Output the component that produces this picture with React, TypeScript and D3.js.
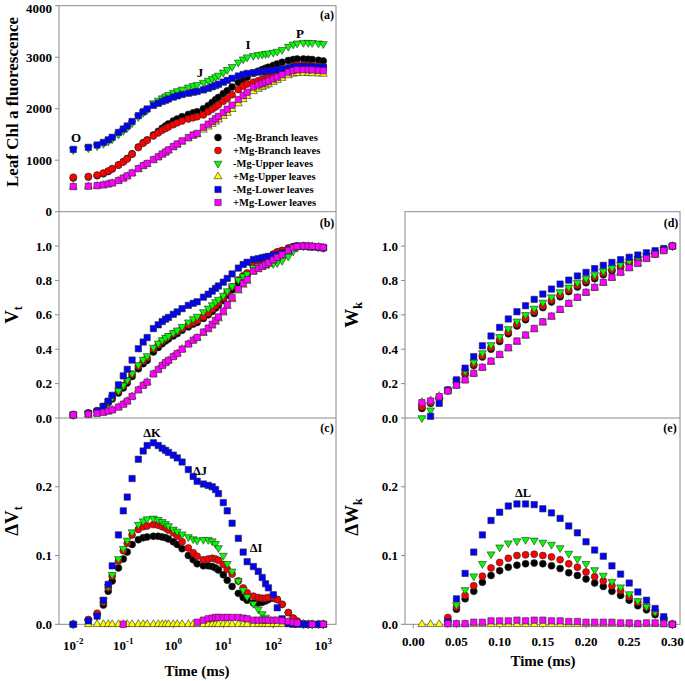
import React from "react";
import * as d3 from "d3";

// time points (ms) of the OJIP transient
const TIME = [
  0.01, 0.02, 0.03, 0.04, 0.05, 0.06, 0.08, 0.1, 0.12, 0.15, 0.2, 0.25, 0.3,
  0.4, 0.5, 0.6, 0.7, 0.8, 1, 1.2, 1.5, 2, 2.5, 3,
  4, 5, 6, 7, 8, 10, 12, 15, 20, 25, 30,
  40, 50, 60, 70, 80, 100, 120, 150, 200, 250, 300,
  400, 500, 600, 800, 1000,
];

// (a) raw fluorescence
const fBranchMinus = [
  655, 672, 700, 738, 780, 830, 905, 970, 1035, 1125, 1255, 1340, 1395,
  1490, 1560, 1620, 1665, 1705, 1760, 1800, 1845, 1890, 1920, 1940,
  2000, 2060, 2120, 2175, 2220, 2290, 2350, 2420, 2510, 2570, 2610,
  2690, 2730, 2760, 2785, 2805, 2840, 2870, 2900, 2935, 2955, 2965,
  2965, 2960, 2955, 2940, 2925,
];
const fBranchPlus = [
  668, 682, 712, 750, 790, 835, 905, 965, 1025, 1115, 1245, 1330, 1385,
  1470, 1530, 1580, 1615, 1645, 1690, 1725, 1760, 1800, 1825, 1845,
  1880, 1940, 1990, 2035, 2075, 2145, 2200, 2270, 2370, 2440, 2480,
  2515, 2545, 2570, 2595, 2615, 2655, 2690, 2730, 2790, 2830, 2850,
  2850, 2845, 2838, 2825, 2810,
];
const fUpperMinus = [
  1200, 1235, 1275, 1320, 1365, 1410, 1500, 1570, 1630, 1720, 1840, 1920, 1975,
  2110, 2160, 2205, 2240, 2270, 2310, 2345, 2375, 2415, 2445, 2465,
  2505, 2545, 2580, 2615, 2645, 2705, 2755, 2815, 2900, 2960, 3000,
  3030, 3045, 3055, 3065, 3075, 3090, 3110, 3145, 3205, 3250, 3270,
  3282, 3282, 3280, 3270, 3258,
];
const fUpperPlus = [
  482, 490, 500, 515, 532, 552, 598, 645, 688, 745, 825, 885, 925,
  1000, 1055, 1105, 1145, 1185, 1248, 1298, 1355, 1420, 1470, 1500,
  1590, 1650, 1700, 1745, 1785, 1855, 1915, 1990, 2100, 2180, 2240,
  2335, 2380, 2415, 2445, 2470, 2515, 2550, 2595, 2645, 2675, 2688,
  2690, 2688, 2685, 2680, 2675,
];
const fLowerMinus = [
  1210, 1250, 1295, 1345, 1395, 1445, 1540, 1605, 1665, 1752, 1865, 1940, 1995,
  2065, 2105, 2140, 2165, 2190, 2225, 2250, 2275, 2300, 2320, 2335,
  2365, 2395, 2425, 2450, 2475, 2515, 2550, 2590, 2635, 2665, 2685,
  2700, 2710, 2718, 2725, 2732, 2745, 2755, 2770, 2790, 2810, 2820,
  2825, 2822, 2818, 2810, 2805,
];
const fLowerPlus = [
  488, 495, 505, 520, 538, 558, 605, 652, 695, 752, 835, 895, 935,
  1010, 1065, 1120, 1160, 1200, 1265, 1315, 1375, 1440, 1490, 1520,
  1640, 1700, 1755, 1805, 1850, 1925, 1990, 2070, 2180, 2260, 2320,
  2420, 2460, 2490, 2515, 2540, 2580, 2615, 2660, 2710, 2740, 2755,
  2758, 2755, 2752, 2745, 2738,
];

// (b) relative variable fluorescence Vt
const vtBranchMinus = [
  0.018, 0.028, 0.041, 0.061, 0.088, 0.11, 0.145, 0.175, 0.203, 0.241, 0.286, 0.316, 0.335,
  0.384, 0.41, 0.432, 0.448, 0.459, 0.477, 0.491, 0.51, 0.53, 0.546, 0.556,
  0.579, 0.6, 0.62, 0.64, 0.657, 0.684, 0.714, 0.745, 0.785, 0.813, 0.832,
  0.88, 0.895, 0.909, 0.922, 0.933, 0.952, 0.965, 0.974, 0.988, 0.996, 1.0,
  1.0, 0.998, 0.996, 0.993, 0.99,
];
const vtBranchPlus = [
  0.018, 0.029, 0.043, 0.065, 0.093, 0.117, 0.155, 0.187, 0.216, 0.255, 0.301, 0.332, 0.351,
  0.401, 0.426, 0.447, 0.462, 0.472, 0.49, 0.503, 0.52, 0.541, 0.556, 0.567,
  0.588, 0.61, 0.632, 0.653, 0.671, 0.699, 0.73, 0.763, 0.803, 0.827, 0.843,
  0.89, 0.903, 0.915, 0.926, 0.936, 0.953, 0.965, 0.974, 0.988, 0.996, 1.0,
  1.0, 0.998, 0.996, 0.992, 0.988,
];
const vtUpperMinus = [
  0.018, 0.026, 0.039, 0.068, 0.095, 0.119, 0.158, 0.19, 0.22, 0.259, 0.308, 0.34, 0.361,
  0.41, 0.434, 0.454, 0.468, 0.478, 0.495, 0.51, 0.531, 0.557, 0.576, 0.59,
  0.617, 0.638, 0.657, 0.675, 0.689, 0.712, 0.738, 0.767, 0.803, 0.824, 0.837,
  0.875, 0.882, 0.887, 0.89, 0.893, 0.897, 0.902, 0.915, 0.94, 0.97, 0.99,
  1.0, 1.0, 0.999, 0.995, 0.99,
];
const vtUpperPlus = [
  0.018, 0.022, 0.027, 0.033, 0.04, 0.047, 0.063, 0.08, 0.098, 0.125, 0.163, 0.19, 0.208,
  0.256, 0.282, 0.305, 0.322, 0.335, 0.357, 0.375, 0.4, 0.43, 0.452, 0.465,
  0.494, 0.515, 0.536, 0.558, 0.578, 0.612, 0.65, 0.69, 0.74, 0.774, 0.797,
  0.849, 0.864, 0.877, 0.888, 0.897, 0.914, 0.929, 0.945, 0.971, 0.987, 0.996,
  0.999, 0.999, 0.998, 0.995, 0.991,
];
const vtLowerMinus = [
  0.018, 0.027, 0.039, 0.068, 0.098, 0.132, 0.193, 0.245, 0.283, 0.337, 0.403, 0.442, 0.468,
  0.52, 0.542, 0.561, 0.575, 0.585, 0.603, 0.617, 0.636, 0.655, 0.667, 0.676,
  0.703, 0.72, 0.738, 0.754, 0.768, 0.79, 0.812, 0.838, 0.872, 0.893, 0.906,
  0.922, 0.927, 0.932, 0.936, 0.94, 0.946, 0.951, 0.96, 0.978, 0.993, 1.0,
  0.999, 0.997, 0.995, 0.993, 0.99,
];
const vtLowerPlus = [
  0.018, 0.022, 0.027, 0.033, 0.04, 0.047, 0.063, 0.08, 0.098, 0.125, 0.163, 0.19, 0.208,
  0.256, 0.282, 0.305, 0.322, 0.335, 0.357, 0.375, 0.4, 0.43, 0.452, 0.468,
  0.5, 0.523, 0.545, 0.568, 0.588, 0.622, 0.66, 0.7, 0.75, 0.783, 0.805,
  0.855, 0.87, 0.883, 0.894, 0.903, 0.92, 0.935, 0.95, 0.975, 0.99, 0.998,
  1.0, 1.0, 0.999, 0.996, 0.992,
];

// (c) difference kinetics dVt
const dvBranchMinus = [
  0, 0.006, 0.014, 0.028, 0.048, 0.063, 0.082, 0.095, 0.105, 0.116, 0.123, 0.126, 0.127,
  0.128, 0.128, 0.127, 0.126, 0.124, 0.12, 0.116, 0.11, 0.1, 0.094, 0.088,
  0.085, 0.085, 0.084, 0.082, 0.079, 0.072, 0.064, 0.055, 0.045, 0.039, 0.035,
  0.031, 0.031, 0.032, 0.034, 0.036, 0.038, 0.036, 0.029, 0.017, 0.009, 0.004,
  0.001, 0, 0, 0, 0,
];
const dvBranchPlus = [
  0, 0.007, 0.016, 0.032, 0.053, 0.07, 0.092, 0.107, 0.118, 0.13, 0.138, 0.142, 0.143,
  0.145, 0.144, 0.142, 0.14, 0.137, 0.133, 0.128, 0.12, 0.111, 0.104, 0.099,
  0.094, 0.095, 0.096, 0.095, 0.093, 0.087, 0.08, 0.073, 0.063, 0.053, 0.046,
  0.041, 0.039, 0.038, 0.038, 0.039, 0.039, 0.036, 0.029, 0.017, 0.009, 0.005,
  0.001, 0, 0, 0, 0,
];
const dvUpperMinus = [
  0, 0.004, 0.012, 0.035, 0.055, 0.072, 0.095, 0.11, 0.122, 0.134, 0.145, 0.15, 0.153,
  0.154, 0.152, 0.149, 0.146, 0.143, 0.138, 0.135, 0.131, 0.127, 0.124, 0.122,
  0.123, 0.123, 0.121, 0.117, 0.111, 0.1, 0.088, 0.077, 0.063, 0.05, 0.04,
  0.03, 0.022, 0.015, 0.01, 0.006, 0.002, -0.01, -0.02, -0.03, -0.017, -0.006,
  0, 0, 0, 0, 0,
];
const dvUpperPlus = [
  0, 0, 0, 0, 0, 0, 0, 0, 0, 0, 0, 0, 0,
  0, 0, 0, 0, 0, 0, 0, 0, 0, 0, 0,
  0, 0, 0, 0, 0, 0, 0, 0, 0, 0, 0,
  0, 0, 0, 0, 0, 0, 0, 0, 0, 0, 0,
  0, 0, 0, 0, 0,
];
const dvLowerMinus = [
  0, 0.005, 0.012, 0.035, 0.058, 0.085, 0.13, 0.165, 0.185, 0.212, 0.24, 0.252, 0.26,
  0.264, 0.26, 0.256, 0.253, 0.25, 0.246, 0.242, 0.236, 0.225, 0.215, 0.208,
  0.204, 0.202, 0.2, 0.196, 0.19, 0.177, 0.165, 0.147, 0.125, 0.105, 0.091,
  0.084, 0.077, 0.068, 0.059, 0.053, 0.043, 0.024, 0.008, 0.001, 0, 0,
  0, 0, 0, 0, 0,
];
const dvLowerPlus = [
  -0.002, -0.002, -0.002, -0.002, -0.002, -0.002, -0.002, 0, -0.002, -0.002, -0.002, -0.002, -0.002,
  -0.002, -0.002, -0.002, -0.002, -0.002, -0.002, -0.002, -0.002, -0.002, -0.001, 0.003,
  0.006, 0.008, 0.009, 0.01, 0.01, 0.01, 0.01, 0.01, 0.01, 0.009, 0.008,
  0.006, 0.006, 0.006, 0.006, 0.006, 0.006, 0.006, 0.005, 0.004, 0.003, 0.002,
  -0.001, -0.001, 0, -0.001, 0,
];

// (d)/(e) time points (ms) of the O-K phase
const TIME_K = [
  0.01, 0.02, 0.03, 0.04, 0.05, 0.06, 0.07, 0.08, 0.09, 0.1,
  0.11, 0.12, 0.13, 0.14, 0.15, 0.16, 0.17, 0.18, 0.19, 0.2,
  0.21, 0.22, 0.23, 0.24, 0.25, 0.26, 0.27, 0.28, 0.29, 0.3,
];

const wkBranchMinus = [
  0.055, 0.085, 0.115, 0.16, 0.205, 0.255, 0.305, 0.355, 0.4, 0.445,
  0.49, 0.535, 0.572, 0.608, 0.642, 0.675, 0.705, 0.735, 0.762, 0.787,
  0.81, 0.833, 0.855, 0.876, 0.897, 0.916, 0.935, 0.955, 0.977, 1.0,
];
const wkBranchPlus = [
  0.065, 0.09, 0.118, 0.162, 0.21, 0.262, 0.312, 0.362, 0.41, 0.455,
  0.5, 0.545, 0.582, 0.618, 0.652, 0.685, 0.715, 0.745, 0.772, 0.797,
  0.82, 0.842, 0.863, 0.883, 0.903, 0.921, 0.939, 0.958, 0.979, 1.0,
];
const wkUpperMinus = [
  0.0, 0.045, 0.1, 0.16, 0.215, 0.272, 0.325, 0.378, 0.425, 0.472,
  0.518, 0.562, 0.6, 0.637, 0.672, 0.703, 0.733, 0.76, 0.786, 0.81,
  0.832, 0.853, 0.873, 0.892, 0.91, 0.927, 0.944, 0.962, 0.981, 1.0,
];
const wkUpperPlus = [
  0.092, 0.102, 0.127, 0.156, 0.189, 0.22, 0.257, 0.292, 0.326, 0.365,
  0.404, 0.442, 0.478, 0.515, 0.554, 0.588, 0.627, 0.663, 0.698, 0.728,
  0.757, 0.786, 0.815, 0.845, 0.872, 0.898, 0.926, 0.95, 0.972, 1.0,
];
const wkLowerMinus = [
  -0.04, 0.01, 0.085, 0.163, 0.222, 0.29, 0.357, 0.42, 0.477, 0.527,
  0.576, 0.618, 0.653, 0.69, 0.721, 0.75, 0.779, 0.802, 0.826, 0.847,
  0.869, 0.888, 0.905, 0.921, 0.935, 0.948, 0.961, 0.973, 0.986, 1.0,
];
const wkLowerPlus = [
  0.089, 0.099, 0.124, 0.157, 0.19, 0.221, 0.26, 0.295, 0.331, 0.37,
  0.409, 0.448, 0.483, 0.521, 0.56, 0.593, 0.632, 0.667, 0.702, 0.731,
  0.76, 0.789, 0.818, 0.847, 0.874, 0.899, 0.928, 0.952, 0.973, 1.0,
];

const dwBranchMinus = [
  -0.037, -0.017, -0.012, 0.005, 0.022, 0.037, 0.048, 0.061, 0.071, 0.078,
  0.083, 0.086, 0.088, 0.089, 0.088, 0.085, 0.081, 0.075, 0.071, 0.066,
  0.06, 0.055, 0.048, 0.042, 0.035, 0.027, 0.021, 0.014, 0.006, 0,
];
const dwBranchPlus = [
  -0.027, -0.012, -0.009, 0.01, 0.025, 0.042, 0.056, 0.07, 0.082, 0.09,
  0.096, 0.1, 0.101, 0.102, 0.1, 0.098, 0.094, 0.088, 0.083, 0.076,
  0.069, 0.063, 0.056, 0.049, 0.04, 0.032, 0.025, 0.017, 0.008, 0,
];
const dwUpperMinus = [
  -0.092, -0.057, -0.027, 0.002, 0.028, 0.05, 0.07, 0.088, 0.102, 0.112,
  0.118, 0.121, 0.123, 0.122, 0.119, 0.116, 0.111, 0.103, 0.095, 0.088,
  0.079, 0.071, 0.062, 0.054, 0.044, 0.034, 0.026, 0.018, 0.007, 0,
];
const dwUpperPlus = [
  0, 0, 0, 0, 0, 0, 0, 0, 0, 0,
  0, 0, 0, 0, 0, 0, 0, 0, 0, 0,
  0, 0, 0, 0, 0, 0, 0, 0, 0, 0,
];
const dwLowerMinus = [
  -0.13, -0.09, -0.04, 0.004, 0.037, 0.074, 0.105, 0.13, 0.151, 0.163,
  0.172, 0.175, 0.175, 0.174, 0.168, 0.162, 0.154, 0.143, 0.133, 0.12,
  0.108, 0.099, 0.085, 0.073, 0.06, 0.047, 0.035, 0.023, 0.011, 0,
];
const dwLowerPlus = [
  -0.003, -0.003, -0.003, 0.001, 0.001, 0.001, 0.003, 0.003, 0.005, 0.005,
  0.005, 0.006, 0.005, 0.006, 0.006, 0.005, 0.005, 0.004, 0.004, 0.003,
  0.003, 0.003, 0.003, 0.002, 0.002, 0.001, 0.002, 0.002, 0.001, 0,
];

// axis ticks
const Y_TICKS_A = [0, 1000, 2000, 3000, 4000];
const Y_TICKS_B = [0, 0.2, 0.4, 0.6, 0.8, 1.0];
const Y_TICKS_C = [0, 0.1, 0.2];
const X_TICKS_LOG = [0.01, 0.1, 1, 10, 100, 1000];
const X_TICKS_K = [0, 0.05, 0.1, 0.15, 0.2, 0.25, 0.3];

type Shape = "circle" | "square" | "up" | "down";
const SERIES: { label: string; color: string; shape: Shape }[] = [
  { label: "-Mg-Branch leaves", color: "#000000", shape: "circle" },
  { label: "+Mg-Branch leaves", color: "#ff0000", shape: "circle" },
  { label: "-Mg-Upper leaves", color: "#00ff00", shape: "down" },
  { label: "+Mg-Upper leaves", color: "#ffff00", shape: "up" },
  { label: "-Mg-Lower leaves", color: "#0000ff", shape: "square" },
  { label: "+Mg-Lower leaves", color: "#ff00ff", shape: "square" },
];

const FONT = "'Liberation Serif', 'Times New Roman', serif";
const AXIS = "#8a8a8a";

const SYMBOLS: Record<Shape, string> = {
  circle: d3.symbol(d3.symbolCircle, 38)() as string,
  square: d3.symbol(d3.symbolSquare, 40)() as string,
  up: d3.symbol(d3.symbolTriangle, 27)() as string,
  down: d3.symbol(d3.symbolTriangle, 27)() as string,
};

const LX0 = 59, LX1 = 336, RX0 = 405, RX1 = 680;
const TOP = 5.7, R1 = 211.7, R2 = 418, BOT = 624.3;

const xLog = d3.scaleLog().domain([0.00518, 1795]).range([LX0, LX1]);
const xLin = d3.scaleLinear().domain([-0.0096, 0.3088]).range([RX0, RX1]);
const yA = d3.scaleLinear().domain([0, 4000]).range([R1, TOP]);
const yB = d3.scaleLinear().domain([0, 1.2]).range([R2, R1]);
const yC = d3.scaleLinear().domain([0, 0.3]).range([BOT, R2]);

function Marker({ cx, cy, shape, color }: { cx: number; cy: number; shape: Shape; color: string }) {
  const rot = shape === "down" ? " rotate(180)" : "";
  return (
    <path
      d={SYMBOLS[shape]}
      transform={`translate(${cx},${cy})${rot}`}
      fill={color}
      stroke="#2a2a2a"
      strokeWidth={0.6}
    />
  );
}

function Scatter({
  times, values, x, y,
}: {
  times: number[];
  values: number[][];
  x: (v: number) => number;
  y: d3.ScaleLinear<number, number>;
}) {
  const [lo, hi] = y.domain();
  return (
    <g>
      {values.map((vals, si) => (
        <g key={si}>
          {vals.map((v, i) =>
            v >= lo - 1e-9 && v <= hi + 1e-9 ? (
              <Marker key={i} cx={x(times[i])} cy={y(v)} shape={SERIES[si].shape} color={SERIES[si].color} />
            ) : null,
          )}
        </g>
      ))}
    </g>
  );
}

function YAxis({ y, ticks, x0, fmt }: { y: d3.ScaleLinear<number, number>; ticks: number[]; x0: number; fmt: (v: number) => string }) {
  return (
    <g>
      {ticks.map((t) => (
        <g key={t}>
          <line x1={x0 - 4} x2={x0} y1={y(t)} y2={y(t)} stroke={AXIS} />
          {/* keep the top label inside the page */}
          <text x={x0 - 7} y={Math.max(y(t), 8)} dy="0.35em" textAnchor="end" fontSize={13} fontWeight="bold">
            {fmt(t)}
          </text>
        </g>
      ))}
    </g>
  );
}

function AxisTitle({ x, y, main, sub, size = 19 }: { x: number; y: number; main: string; sub?: string; size?: number }) {
  return (
    <text transform={`translate(${x},${y}) rotate(-90)`} textAnchor="middle" fontSize={size} fontWeight="bold">
      <tspan>{main}</tspan>
      {sub ? (
        <tspan fontSize={12} dy={4}>
          {sub}
        </tspan>
      ) : null}
    </text>
  );
}

export default function App() {
  const fmt0 = d3.format("d");
  const fmt1 = d3.format(".1f");
  const fmt2 = d3.format(".2f");

  const fVals = [fBranchMinus, fBranchPlus, fUpperMinus, fUpperPlus, fLowerMinus, fLowerPlus];
  const vtVals = [vtBranchMinus, vtBranchPlus, vtUpperMinus, vtUpperPlus, vtLowerMinus, vtLowerPlus];
  const dvVals = [dvBranchMinus, dvBranchPlus, dvUpperMinus, dvUpperPlus, dvLowerMinus, dvLowerPlus];
  const wkVals = [wkBranchMinus, wkBranchPlus, wkUpperMinus, wkUpperPlus, wkLowerMinus, wkLowerPlus];
  const dwVals = [dwBranchMinus, dwBranchPlus, dwUpperMinus, dwUpperPlus, dwLowerMinus, dwLowerPlus];

  const label = (txt: string, x: number, y: number, size = 13) => (
    <text x={x} y={y} textAnchor="middle" fontSize={size} fontWeight="bold">
      {txt}
    </text>
  );

  return (
    <svg
      width={685}
      height={681}
      style={{ position: "absolute", left: 0, top: 0, background: "#fff" }}
      fontFamily={FONT}
      fill="#000"
    >
      {/* frames */}
      <g fill="none" stroke={AXIS} strokeWidth={1}>
        <rect x={LX0} y={TOP} width={LX1 - LX0} height={BOT - TOP} />
        <line x1={LX0} x2={LX1} y1={R1} y2={R1} />
        <line x1={LX0} x2={LX1} y1={R2} y2={R2} />
        <rect x={RX0} y={R1} width={RX1 - RX0} height={BOT - R1} />
        <line x1={RX0} x2={RX1} y1={R2} y2={R2} />
      </g>

      {/* y axes */}
      <YAxis y={yA} ticks={Y_TICKS_A} x0={LX0} fmt={fmt0} />
      <YAxis y={yB} ticks={Y_TICKS_B} x0={LX0} fmt={fmt1} />
      <YAxis y={yC} ticks={Y_TICKS_C} x0={LX0} fmt={fmt1} />
      <YAxis y={yB} ticks={Y_TICKS_B} x0={RX0} fmt={fmt1} />
      <YAxis y={yC} ticks={Y_TICKS_C} x0={RX0} fmt={fmt1} />

      {/* bottom axes */}
      {X_TICKS_LOG.map((t) => (
        <g key={t}>
          <line x1={xLog(t)} x2={xLog(t)} y1={BOT} y2={BOT + 4} stroke={AXIS} />
          <text x={xLog(t)} y={650} textAnchor="middle" fontSize={13} fontWeight="bold">
            <tspan>10</tspan>
            <tspan fontSize={9} dy={-6}>
              {String(Math.round(Math.log10(t)))}
            </tspan>
          </text>
        </g>
      ))}
      {X_TICKS_K.map((t) => (
        <g key={t}>
          <line x1={xLin(t)} x2={xLin(t)} y1={BOT} y2={BOT + 4} stroke={AXIS} />
          <text x={xLin(t)} y={646} textAnchor="middle" fontSize={13} fontWeight="bold">
            {fmt2(t)}
          </text>
        </g>
      ))}

      {/* data */}
      <Scatter times={TIME} values={fVals} x={xLog} y={yA} />
      <Scatter times={TIME} values={vtVals} x={xLog} y={yB} />
      <Scatter times={TIME} values={dvVals} x={xLog} y={yC} />
      <Scatter times={TIME_K} values={wkVals} x={xLin} y={yB} />
      <Scatter times={TIME_K} values={dwVals} x={xLin} y={yC} />

      {/* legend */}
      {SERIES.map((s, i) => (
        <g key={s.label}>
          <Marker cx={218} cy={137.5 + i * 13} shape={s.shape} color={s.color} />
          <text x={233} y={137.5 + i * 13} dy="0.35em" fontSize={10.5} fontWeight="bold">
            {s.label}
          </text>
        </g>
      ))}

      {/* titles */}
      <AxisTitle x={18} y={102} main="Leaf Chl a fluorescence" size={17} />
      <AxisTitle x={18} y={315} main="V" sub="t" />
      <AxisTitle x={18} y={521} main="ΔV" sub="t" />
      <AxisTitle x={358} y={315} main="W" sub="k" />
      <AxisTitle x={358} y={517} main="ΔW" sub="k" />
      {label("Time (ms)", 197, 676, 15)}
      {label("Time (ms)", 543, 666, 15)}

      {/* panel tags */}
      {label("(a)", 327, 19, 12)}
      {label("(b)", 327, 227, 12)}
      {label("(c)", 327, 432, 12)}
      {label("(d)", 671, 227, 12)}
      {label("(e)", 670, 432, 12)}

      {/* OJIP steps */}
      {label("O", 76, 142)}
      {label("J", 200, 77)}
      {label("I", 248, 49)}
      {label("P", 300, 38)}
      {label("ΔK", 152, 437, 12.5)}
      {label("ΔJ", 200, 475, 12.5)}
      {label("ΔI", 256, 552, 12.5)}
      {label("ΔL", 523, 497, 12.5)}
    </svg>
  );
}
